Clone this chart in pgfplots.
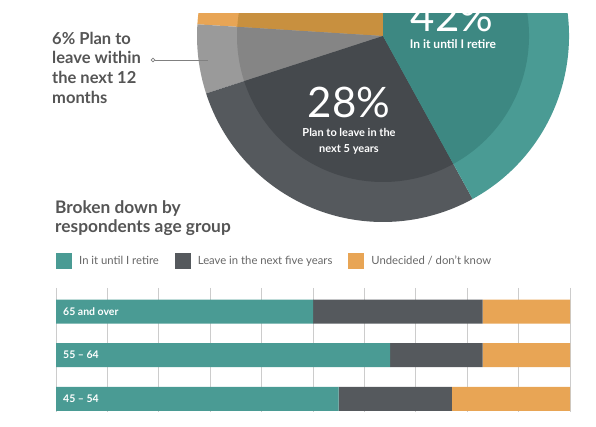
\documentclass[border=0pt]{standalone}
\usepackage{fontspec}
\setmainfont{Lato}
\usepackage{pgfplots}
\pgfplotsset{compat=1.18}

\definecolor{tealc}{HTML}{4A9B94}
\definecolor{tealin}{HTML}{3D8882}
\definecolor{darkc}{HTML}{55595D}
\definecolor{darkin}{HTML}{45494D}
\definecolor{lgc}{HTML}{9A9A9A}
\definecolor{lgin}{HTML}{858585}
\definecolor{orc}{HTML}{E8A555}
\definecolor{orin}{HTML}{C8903F}
\definecolor{txt}{HTML}{555555}
\definecolor{legtxt}{HTML}{666666}

% pie wedge: start %, end %, radius, colour (starts at the top, counterclockwise)
\newcommand{\piewedge}[4]{%
  \fill[#4] (axis cs:0,0) -- ++({90+3.6*#1}:#3)
    arc[start angle={90+3.6*#1}, end angle={90+3.6*#2}, radius=#3] -- cycle;}

\begin{document}
\begin{tikzpicture}[x=1pt,y=1pt]
\useasboundingbox (0,0) rectangle (596,427);

% ---- pie (cut off at the top) ----
\begin{scope}
\clip (0,0) rectangle (596,413);
\begin{axis}[
  at={(383pt,391pt)}, anchor=center,
  scale only axis, width=372pt, height=372pt,
  xmin=-1, xmax=1, ymin=-1, ymax=1,
  hide axis, clip=false,
]
% undecided 24, within 12 months 6, next 5 years 28, until retire 42
\piewedge{0}{24}{186pt}{orc}
\piewedge{24}{30}{186pt}{lgc}
\piewedge{30}{58}{186pt}{darkc}
\piewedge{58}{100}{186pt}{tealc}
\piewedge{0}{24}{146pt}{orin}
\piewedge{24}{30}{146pt}{lgin}
\piewedge{30}{58}{146pt}{darkin}
\piewedge{58}{100}{146pt}{tealin}
\end{axis}
\node[anchor=base, inner sep=0, text=white, font=\fontsize{42}{42}\selectfont] at (452,395) {42\%};
\end{scope}

\node[anchor=base, inner sep=0, text=white, font=\bfseries\fontsize{12}{14}\selectfont] at (453,378) {In it until I retire};
\node[anchor=base, inner sep=0, text=white, font=\fontsize{42}{42}\selectfont] at (349,309) {28\%};
\node[anchor=base, inner sep=0, text=white, font=\bfseries\fontsize{11}{13}\selectfont] at (349,290) {Plan to leave in the};
\node[anchor=base, inner sep=0, text=white, font=\bfseries\fontsize{11}{13}\selectfont] at (349,274) {next 5 years};

% ---- left annotation ----
\begin{scope}[every node/.style={anchor=base west, inner sep=0, text=txt, font=\bfseries\fontsize{16.5}{20}\selectfont}]
\node at (52,382) {6\% Plan to};
\node at (52,363) {leave within};
\node at (52,343) {the next 12};
\node at (52,323) {months};
\end{scope}
\begin{scope}[every node/.style={anchor=base west, inner sep=0, text=txt, font=\bfseries\fontsize{17.3}{20}\selectfont}]
\node at (55,213) {Broken down by};
\node at (55,194) {respondents age group};
\end{scope}
\draw[black!50, line width=0.8pt] (155,367) -- (208,367);
\draw[black!50, line width=0.7pt, fill=white] (153,367) circle (1.8pt);

% ---- stacked bars by age group ----
\begin{axis}[
  at={(56pt,15pt)}, anchor=south west,
  scale only axis, width=514pt, height=124pt,
  xbar stacked, bar width=24pt,
  xmin=0, xmax=100, ymin=-0.54, ymax=2.30, y dir=reverse,
  xtick={0,10,...,100}, xticklabels={}, ytick=\empty,
  xmajorgrids, major grid style={draw=black!20, line width=0.7pt},
  major tick length=0pt,
  axis line style={draw=none},
  legend columns=-1,
  legend style={at={(axis description cs:0,1.218)}, anchor=west,
    draw=none, fill=none, inner sep=0pt, text=legtxt,
    font=\fontsize{11.3}{13}\selectfont,
    /tikz/every odd column/.append style={column sep=5pt},
    /tikz/every even column/.append style={column sep=14pt}},
  legend image code/.code={\fill[#1] (0pt,-8pt) rectangle (16pt,8pt);},
]
\addplot[draw=none, fill=tealc] coordinates {(50,0) (65,1) (55,2)};
\addplot[draw=none, fill=darkc] coordinates {(33,0) (18,1) (22,2)};
\addplot[draw=none, fill=orc] coordinates {(17,0) (17,1) (23,2)};
\legend{In it until I retire, Leave in the next five years, Undecided / don't know}
\coordinate (g0) at (axis cs:0,0);
\coordinate (g1) at (axis cs:0,1);
\coordinate (g2) at (axis cs:0,2);
\end{axis}
\begin{scope}[every node/.style={anchor=base west, inner sep=0, text=white, font=\bfseries\fontsize{10.5}{12}\selectfont}]
\node at ([xshift=7pt,yshift=-3.6pt]g0) {65 and over};
\node at ([xshift=7pt,yshift=-3.6pt]g1) {55 – 64};
\node at ([xshift=7pt,yshift=-3.6pt]g2) {45 – 54};
\end{scope}
\end{tikzpicture}
\end{document}
